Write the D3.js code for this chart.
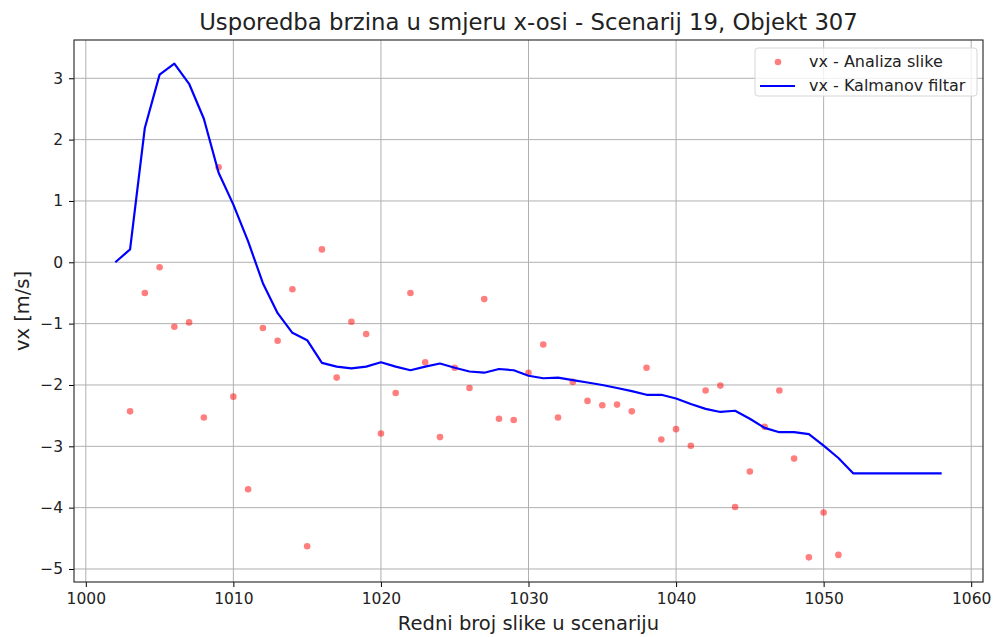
<!DOCTYPE html>
<html><head><meta charset="utf-8">
<script src="https://cdn.jsdelivr.net/npm/d3@7"></script>
<style>body{margin:0;background:#fff;font-family:"DejaVu Sans",sans-serif;}</style>
</head><body><svg id="c" width="995" height="637"></svg>
<script>
const scatterFrames = d3.range(1003, 1052);
const scatterVx = [-2.43,-0.50,-0.08,-1.05,-0.98,-2.53,1.55,-2.19,-3.70,-1.07,-1.28,-0.44,-4.63,0.21,-1.88,-0.97,-1.17,-2.79,-2.13,-0.50,-1.63,-2.85,-1.72,-2.05,-0.60,-2.55,-2.57,-1.80,-1.34,-2.53,-1.95,-2.26,-2.33,-2.32,-2.43,-1.72,-2.89,-2.72,-2.99,-2.09,-2.01,-3.99,-3.41,-2.68,-2.09,-3.20,-4.81,-4.08,-4.77];
const kalmanFrames = d3.range(1002, 1059);
const kalmanVx = [0,0.21,2.19,3.06,3.24,2.91,2.34,1.46,0.94,0.34,-0.34,-0.83,-1.15,-1.27,-1.64,-1.70,-1.73,-1.70,-1.63,-1.70,-1.76,-1.70,-1.65,-1.72,-1.78,-1.80,-1.74,-1.76,-1.85,-1.89,-1.88,-1.92,-1.96,-2.00,-2.05,-2.10,-2.16,-2.16,-2.22,-2.31,-2.39,-2.44,-2.42,-2.55,-2.70,-2.77,-2.77,-2.80,-2.99,-3.19,-3.44,-3.44,-3.44,-3.44,-3.44,-3.44,-3.44];
const xTicks = [1000,1010,1020,1030,1040,1050,1060];
const yTicks = [3,2,1,0,-1,-2,-3,-4,-5];
const title = "Usporedba brzina u smjeru x-osi - Scenarij 19, Objekt 307";
const xLabel = "Redni broj slike u scenariju";
const yLabel = "vx [m/s]";
const legendLabels = ["vx - Analiza slike","vx - Kalmanov filtar"];

const svg = d3.select("#c");
const L=74, R=983, T=40, B=582;
const x = d3.scaleLinear().domain([999.2,1060.8]).range([L,R]);
const y = d3.scaleLinear().domain([-5.212,3.624]).range([B,T]);
const fmt = d => d<0 ? "\u2212"+Math.abs(d) : String(d);

// grid
svg.append("g").selectAll("line").data(xTicks).join("line")
  .attr("x1",d=>x(d)).attr("x2",d=>x(d)).attr("y1",T).attr("y2",B)
  .attr("stroke","#b0b0b0").attr("stroke-width",1);
svg.append("g").selectAll("line").data(yTicks).join("line")
  .attr("y1",d=>y(d)).attr("y2",d=>y(d)).attr("x1",L).attr("x2",R)
  .attr("stroke","#b0b0b0").attr("stroke-width",1);

// axes
const xa = svg.append("g").attr("transform",`translate(0,${B})`)
  .call(d3.axisBottom(x).tickValues(xTicks).tickFormat(fmt).tickSize(5).tickPadding(6));
const ya = svg.append("g").attr("transform",`translate(${L},0)`)
  .call(d3.axisLeft(y).tickValues(yTicks).tickFormat(fmt).tickSize(5).tickPadding(6));
[xa,ya].forEach(a=>{a.select(".domain").remove();
  a.selectAll("text").attr("font-family","DejaVu Sans").attr("font-size",15.5).attr("fill","#222");
  a.selectAll("line").attr("stroke","#000").attr("stroke-width",1);});

// scatter
svg.append("g").selectAll("circle").data(scatterFrames).join("circle")
  .attr("cx",(d)=>x(d)).attr("cy",(d,i)=>y(scatterVx[i])).attr("r",3.3)
  .attr("fill","#ff0000").attr("fill-opacity",0.5);

// line
const line = d3.line().x(d=>x(d[0])).y(d=>y(d[1]));
svg.append("path").datum(kalmanFrames.map((f,i)=>[f,kalmanVx[i]]))
  .attr("d",line).attr("fill","none").attr("stroke","#0000ff").attr("stroke-width",2.2)
  .attr("stroke-linejoin","round");

// frame
svg.append("rect").attr("x",L).attr("y",T).attr("width",R-L).attr("height",B-T)
  .attr("fill","none").attr("stroke","#222").attr("stroke-width",1.1);

// title & labels
svg.append("text").attr("x",(L+R)/2).attr("y",30).attr("text-anchor","middle")
  .attr("font-size",22.75).attr("fill","#222").text(title);
svg.append("text").attr("x",(L+R)/2).attr("y",630).attr("text-anchor","middle")
  .attr("font-size",19.5).attr("fill","#222").text(xLabel);
svg.append("text").attr("transform",`translate(29,${(T+B)/2}) rotate(-90)`).attr("text-anchor","middle")
  .attr("font-size",19.5).attr("fill","#222").text(yLabel);

// legend
const lg = svg.append("g");
lg.append("rect").attr("x",755).attr("y",48).attr("width",222).attr("height",48).attr("rx",3)
  .attr("fill","#fff").attr("fill-opacity",0.8).attr("stroke","#d6d6d6");
lg.append("circle").attr("cx",778).attr("cy",62).attr("r",3.3).attr("fill","#ff0000").attr("fill-opacity",0.5);
lg.append("line").attr("x1",760).attr("x2",795).attr("y1",86).attr("y2",86).attr("stroke","#0000ff").attr("stroke-width",2.2);
lg.selectAll("text.l").data(legendLabels).join("text").attr("class","l")
  .attr("x",809).attr("y",(d,i)=>67+i*24).attr("font-size",16).attr("fill","#222").text(d=>d);
</script></body></html>
